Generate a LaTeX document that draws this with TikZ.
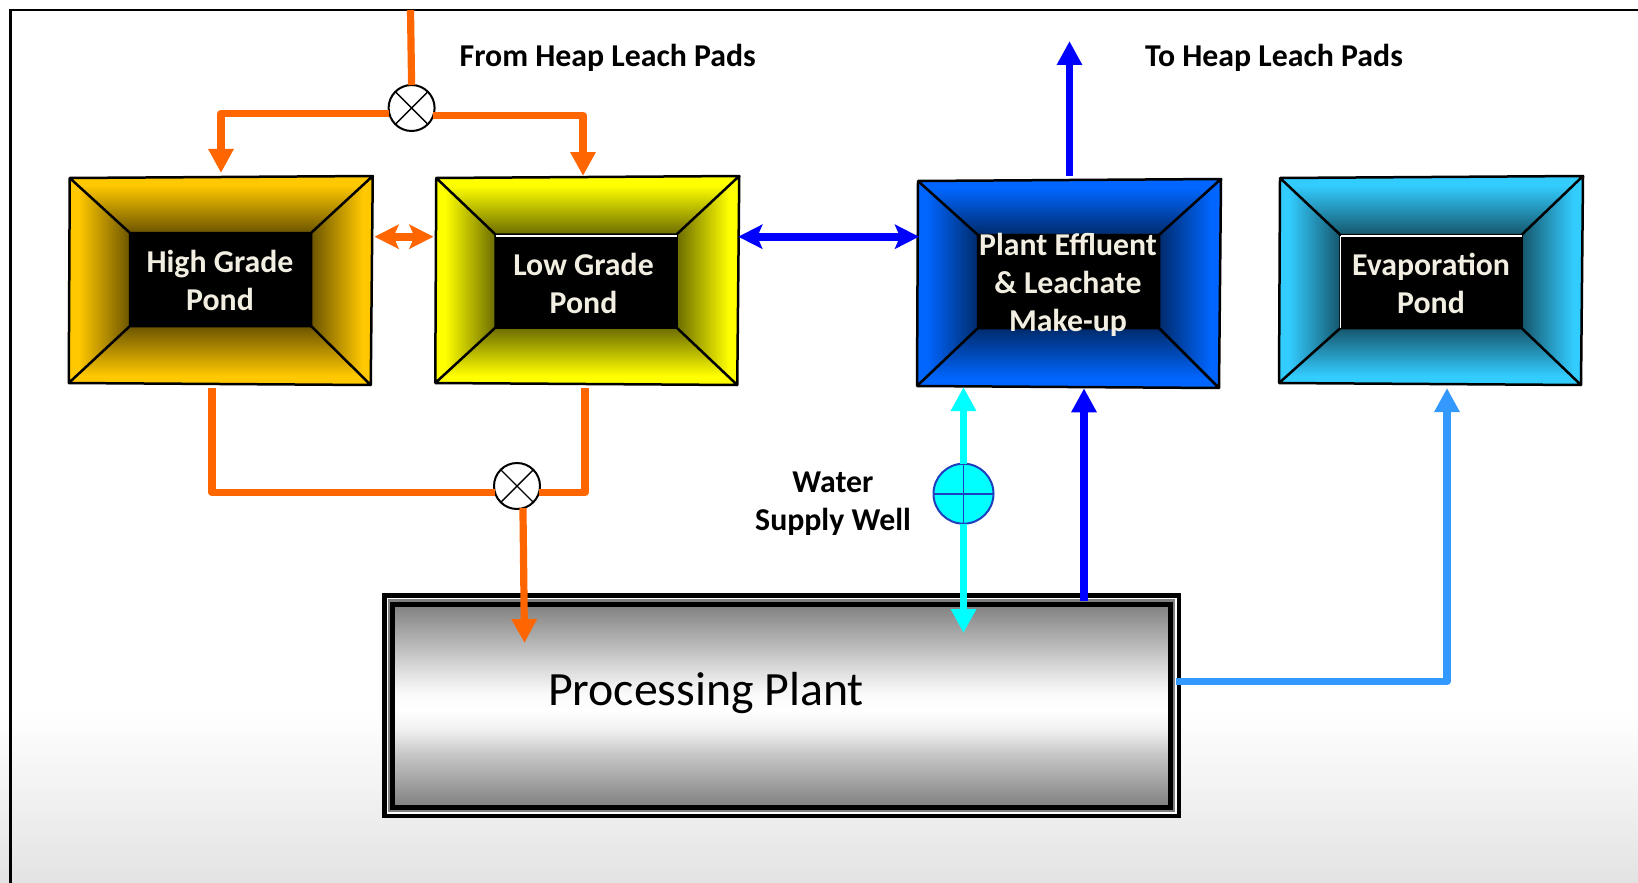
\documentclass[tikz,border=0pt]{standalone}
\usepackage{xcolor}
\usepackage{fontspec}
\setmainfont{Carlito}
\usetikzlibrary{arrows.meta}

\definecolor{pondgold}{HTML}{FFC800}
\definecolor{pondyellow}{HTML}{FFFF00}
\definecolor{pondblue}{HTML}{0066FF}
\definecolor{pondsky}{HTML}{33CCFF}
\definecolor{pipeorange}{HTML}{FF6600}
\definecolor{pipeblue}{HTML}{0000FF}
\definecolor{pipecyan}{HTML}{00FFFF}
\definecolor{pipesky}{HTML}{3399FF}
\definecolor{wellrim}{HTML}{1F3FBF}
\definecolor{pondlabel}{HTML}{F2EFE2}
\definecolor{floorgrey}{HTML}{E3E3E3}

\pgfdeclareverticalshading[pondrim,pondpit]{pondslope}{100bp}{color(0bp)=(pondrim); color(25bp)=(pondrim); color(33bp)=(pondrim); color(75bp)=(pondpit); color(100bp)=(pondpit)}
\pgfdeclareverticalshading{plantsteel}{100bp}{color(0bp)=(black!50); color(25bp)=(black!50); color(38bp)=(black!22); color(44bp)=(black!6); color(49bp)=(white); color(53bp)=(black!2); color(58bp)=(black!12); color(75bp)=(black!50); color(100bp)=(black!50)}

\begin{document}
\begin{tikzpicture}[
  x=0.5pt, y=-0.5pt,
  pondframe/.style={rectangle,inner sep=0,outer sep=0,minimum width=151pt,minimum height=104pt},
  pondcore/.style={rectangle,fill=black,inner sep=0,outer sep=0,minimum width=90.5pt,minimum height=46.5pt},
  pondedge/.style={draw=black,line width=1.25pt,line join=round},
  pondtext/.style={text=pondlabel,font=\fontsize{15.9}{19}\selectfont\bfseries,align=center,inner sep=0},
  headtext/.style={text=black,font=\fontsize{15.9}{19}\selectfont\bfseries,align=center,inner sep=0},
  valve/.style={circle,draw=black,fill=white,line width=1pt,minimum size=23pt,inner sep=0,outer sep=0,
    path picture={\draw[line width=0.7pt] (path picture bounding box.north west) -- (path picture bounding box.south east)
      (path picture bounding box.north east) -- (path picture bounding box.south west);}},
  well/.style={circle,draw=wellrim,fill=pipecyan,line width=1pt,minimum size=30pt,inner sep=0,outer sep=0,
    path picture={\draw[wellrim,line width=0.8pt] (path picture bounding box.north) -- (path picture bounding box.south)
      (path picture bounding box.east) -- (path picture bounding box.west);}},
  pipe/.style={line width=3.6pt,line join=round},
  tip/.style={-{Triangle[length=12pt,width=12pt]}},
  tips/.style={{Stealth[length=12pt,width=12pt,inset=2.5pt]}-{Stealth[length=12pt,width=12pt,inset=2.5pt]}}
]
  \useasboundingbox (0,0) rectangle (1638,883);
  \fill[white] (0,0) rectangle (1638,883);
  \shade[top color=white,bottom color=floorgrey] (0,710) rectangle (1638,883);
  \draw[line width=1.3pt] (10.5,883) -- (10.5,10) -- (1638,10);

  % the four ponds
  \foreach \nm/\col/\cx/\cy/\kx/\ky/\lx/\ly/\txt in {
    high/pondgold/220.75/280.5/220.5/279.5/220/280.5/{High Grade\\Pond},
    low/pondyellow/587.25/280.5/586/281/583.5/283/{Low Grade\\Pond},
    eff/pondblue/1069/283.5/1068.5/281.5/1068/285/{Plant Effluent\\\& Leachate\\Make-up},
    evap/pondsky/1431/280.5/1431/281.5/1431/283.5/{Evaporation\\Pond}} {
    \colorlet{pondrim}{\col}
    \colorlet{pondpit}{\col!42!black}
    \node[pondframe] (\nm) at (\cx,\cy) {};
    \node[pondcore] (\nm-core) at (\kx,\ky) {};
    \coordinate (\nm-tl) at ([shift={(-151,-102.5)}]\nm.center);
    \coordinate (\nm-tr) at ([shift={(152,-104.5)}]\nm.center);
    \coordinate (\nm-br) at ([shift={(150,104.5)}]\nm.center);
    \coordinate (\nm-bl) at ([shift={(-152,102.5)}]\nm.center);
    \shade[shading=pondslope,shading angle=180] (\nm-tl) -- (\nm-tr) -- (\nm-core.north east) -- (\nm-core.north west) -- cycle;
    \shade[shading=pondslope] (\nm-bl) -- (\nm-br) -- (\nm-core.south east) -- (\nm-core.south west) -- cycle;
    \shade[shading=pondslope,shading angle=-90] (\nm-tl) -- (\nm-bl) -- (\nm-core.south west) -- (\nm-core.north west) -- cycle;
    \shade[shading=pondslope,shading angle=90] (\nm-tr) -- (\nm-br) -- (\nm-core.south east) -- (\nm-core.north east) -- cycle;
    \draw[pondedge] (\nm-tl) -- (\nm-tr) -- (\nm-br) -- (\nm-bl) -- cycle
      (\nm-tl) -- (\nm-core.north west) (\nm-tr) -- (\nm-core.north east)
      (\nm-br) -- (\nm-core.south east) (\nm-bl) -- (\nm-core.south west)
      (\nm-core.north west) rectangle (\nm-core.south east);
    \node[pondtext] (\nm-text) at (\lx,\ly) {\txt};
  }
  \draw[white,line width=0.8pt] ([yshift=-0.6pt]low-core.north west) -- ([yshift=-0.6pt]low-core.north east);
  \draw[white,line width=0.8pt] ([yshift=-0.6pt]evap-core.north west) -- ([yshift=-0.6pt]evap-core.north east);
  \draw[white,line width=0.5pt] ([yshift=-0.6pt]evap-core.north west) -- (evap-core.south west);

  % plant with its nested rims
  \node[rectangle,fill=black,inner sep=0,outer sep=0,minimum width=399.5pt,minimum height=112.5pt] (plant) at (781.5,705.5) {};
  \node[rectangle,fill=white,inner sep=0,outer sep=0,minimum width=395pt,minimum height=108pt] (plant-rim) at (plant) {};
  \node[rectangle,fill=gray,inner sep=0,outer sep=0,minimum width=393.5pt,minimum height=106.5pt] (plant-grey) at (plant) {};
  \node[rectangle,draw=black,line width=2.5pt,shading=plantsteel,
    inner sep=0,outer sep=0,minimum width=389pt,minimum height=101.5pt] (plant-core) at (plant) {};
  \node[font=\fontsize{23.9}{30}\selectfont,inner sep=0] (plant-text) at (706,693) {Processing Plant};

  \node[valve] (inlet) at (411.6,108) {};
  \node[valve] (outlet) at (517,486) {};
  \node[well] (supply) at (963.5,493.7) {};

  \coordinate (feed) at (410.5,10);
  \coordinate (hightip) at (221,173);
  \coordinate (lowtip) at (583,176);
  \coordinate (midline) at (0,236.7);
  \coordinate (highout) at (212,388);
  \coordinate (lowout) at (585,388);
  \coordinate (plantin) at (524.5,643);
  \coordinate (effout) at (1069.5,176);
  \coordinate (efftip) at (1069.5,41);
  \coordinate (supplytop) at (963.5,387);
  \coordinate (supplyend) at (963.5,633);
  \coordinate (plantup) at (1084,600.7);
  \coordinate (plantuptip) at (1084,388.3);
  \coordinate (plantout) at (1175.7,681.5);
  \coordinate (evaptip) at (1447,388);

  % pipes
  \draw[pipe,pipeorange] (feed) -- (inlet.north);
  \draw[pipe,pipeorange,tip] (inlet.194) -| (hightip);
  \draw[pipe,pipeorange,tip] (inlet.-18) -| (lowtip);
  \draw[line width=4pt,pipeorange,tips,shorten <=1.4pt,shorten >=1.4pt] (high.east |- midline) -- (low.west |- midline);
  \draw[line width=4pt,pipeblue,tips,shorten >=-0.5pt] (low.east |- midline) -- (eff.west |- midline);
  \draw[pipe,pipeorange] (highout) |- (outlet.197);
  \draw[pipe,pipeorange] (lowout) |- (outlet.-17);
  \draw[pipe,pipeorange,tip] (outlet.-75) -- (plantin);
  \draw[pipe,pipeblue,tip] (effout) -- (efftip);
  \draw[pipe,pipecyan,tip] (supply.north) -- (supplytop);
  \draw[pipe,pipecyan,tip] (supply.south) -- (supplyend);
  \draw[pipe,pipeblue,tip] (plantup) -- (plantuptip);
  \draw[pipe,pipesky,tip] (plantout) -| (evaptip);

  % labels
  \node[headtext] (from-text) at (607.8,58) {From Heap Leach Pads};
  \node[headtext] (to-text) at (1274,58) {To Heap Leach Pads};
  \node[headtext] (well-text) at (833,504) {Water\\Supply Well};
\end{tikzpicture}
\end{document}
